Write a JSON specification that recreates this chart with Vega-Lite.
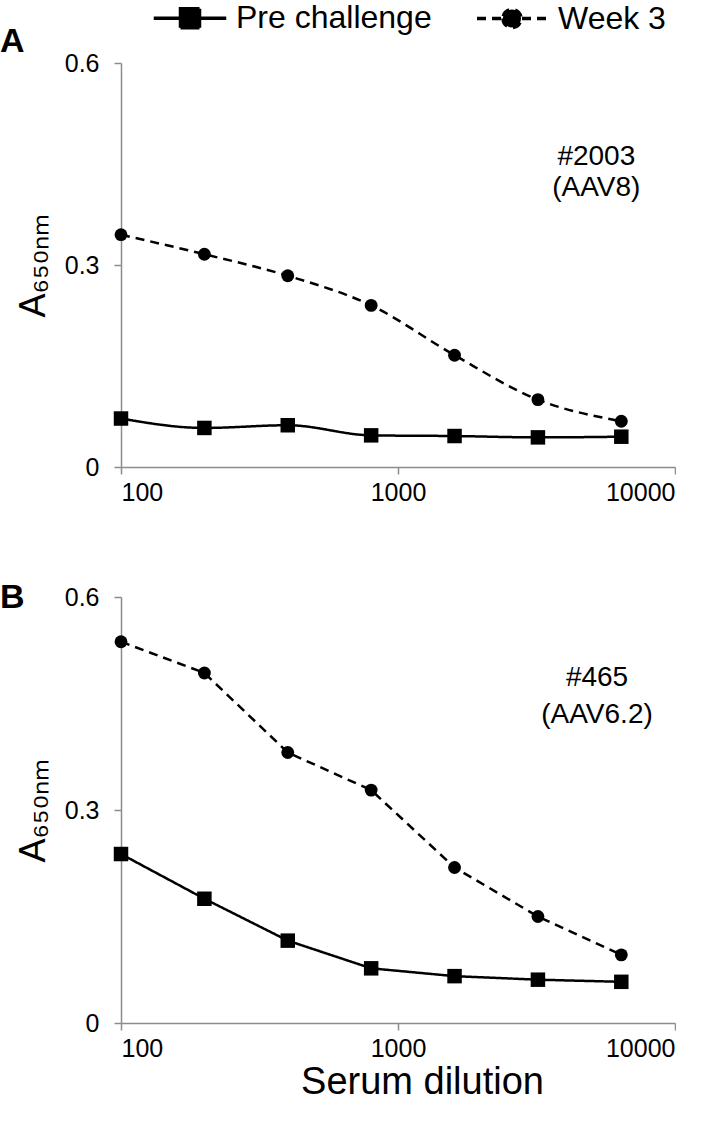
{
  "$schema": "https://vega.github.io/schema/vega-lite/v6.json",
  "background": "white",
  "padding": {"left": 0, "top": 2, "right": 0, "bottom": 0},
  "datasets": {
    "points": [
      {"panel": "A", "series": "Pre challenge", "dilution": 100, "A650": 0.072},
      {"panel": "A", "series": "Pre challenge", "dilution": 200, "A650": 0.058},
      {"panel": "A", "series": "Pre challenge", "dilution": 400, "A650": 0.062},
      {"panel": "A", "series": "Pre challenge", "dilution": 800, "A650": 0.047},
      {"panel": "A", "series": "Pre challenge", "dilution": 1600, "A650": 0.046},
      {"panel": "A", "series": "Pre challenge", "dilution": 3200, "A650": 0.044},
      {"panel": "A", "series": "Pre challenge", "dilution": 6400, "A650": 0.045},
      {"panel": "A", "series": "Week 3", "dilution": 100, "A650": 0.345},
      {"panel": "A", "series": "Week 3", "dilution": 200, "A650": 0.316},
      {"panel": "A", "series": "Week 3", "dilution": 400, "A650": 0.284},
      {"panel": "A", "series": "Week 3", "dilution": 800, "A650": 0.240},
      {"panel": "A", "series": "Week 3", "dilution": 1600, "A650": 0.166},
      {"panel": "A", "series": "Week 3", "dilution": 3200, "A650": 0.100},
      {"panel": "A", "series": "Week 3", "dilution": 6400, "A650": 0.068},
      {"panel": "B", "series": "Pre challenge", "dilution": 100, "A650": 0.238},
      {"panel": "B", "series": "Pre challenge", "dilution": 200, "A650": 0.175},
      {"panel": "B", "series": "Pre challenge", "dilution": 400, "A650": 0.116},
      {"panel": "B", "series": "Pre challenge", "dilution": 800, "A650": 0.077},
      {"panel": "B", "series": "Pre challenge", "dilution": 1600, "A650": 0.066},
      {"panel": "B", "series": "Pre challenge", "dilution": 3200, "A650": 0.061},
      {"panel": "B", "series": "Pre challenge", "dilution": 6400, "A650": 0.058},
      {"panel": "B", "series": "Week 3", "dilution": 100, "A650": 0.537},
      {"panel": "B", "series": "Week 3", "dilution": 200, "A650": 0.493},
      {"panel": "B", "series": "Week 3", "dilution": 400, "A650": 0.381},
      {"panel": "B", "series": "Week 3", "dilution": 800, "A650": 0.328},
      {"panel": "B", "series": "Week 3", "dilution": 1600, "A650": 0.219},
      {"panel": "B", "series": "Week 3", "dilution": 3200, "A650": 0.150},
      {"panel": "B", "series": "Week 3", "dilution": 6400, "A650": 0.096}
    ],
    "notes": [
      {"panel": "A", "dilution": 5200, "A650": 0.46, "label": "#2003\n(AAV8)"},
      {"panel": "B", "dilution": 5230, "A650": 0.486, "label": "#465\n(AAV6.2)"}
    ]
  },
  "vconcat": [
    {
      "width": 554,
      "height": 404,
      "title": {"text": "A", "anchor": "start", "frame": "group", "dx": -121, "offset": -8, "fontSize": 34, "fontWeight": "bold", "font": "Liberation Sans", "color": "black"},
      "layer": [
        {
          "data": {"name": "points"},
          "transform": [{"filter": "datum.panel === 'A'"}],
          "mark": {"type": "line", "color": "black", "strokeWidth": 2.5, "interpolate": "monotone"},
          "encoding": {
            "x": {"field": "dilution", "type": "quantitative", "scale": {"type": "log", "domain": [100, 10000]}, "axis": {"values": [100, 1000, 10000], "format": "d", "title": null}},
            "y": {"field": "A650", "type": "quantitative", "scale": {"domain": [0, 0.6]}, "axis": {"values": [0, 0.3, 0.6], "format": "~g", "title": "A₆₅₀ₙₘ"}},
            "strokeDash": {"field": "series", "type": "nominal", "scale": {"domain": ["Pre challenge", "Week 3"], "range": [[1, 0], [9, 6]]}, "legend": {
              "orient": "none", "legendX": 53, "legendY": -61, "direction": "horizontal", "title": null,
              "labelFontSize": 32, "labelFont": "Liberation Sans", "labelColor": "black", "labelLimit": 400,
              "symbolSize": 625, "symbolStrokeWidth": 3.5, "symbolStrokeColor": "black", "labelOffset": 30, "columnPadding": 38,
              "encode": {"symbols": {"update": {
                "shape": {"signal": "datum.value === 'Pre challenge' ? 'M-2.9,0H2.9M-0.76,-0.76H0.76V0.76H-0.76Z' : 'M-2.8,0H2.8M-0.72,0A0.72,0.72 0 1,0 0.72,0A0.72,0.72 0 1,0 -0.72,0Z'"},
                "size": {"value": 625},
                "fill": {"value": "black"},
                "stroke": {"value": "black"},
                "strokeWidth": {"value": 3.5},
                "strokeOpacity": {"value": 1},
                "opacity": {"value": 1}
              }}}
            }}
          }
        },
        {
          "data": {"name": "points"},
          "transform": [{"filter": "datum.panel === 'A' && datum.series === 'Pre challenge'"}],
          "mark": {"type": "square", "filled": true, "color": "black", "opacity": 1, "size": 210},
          "encoding": {
            "x": {"field": "dilution", "type": "quantitative"},
            "y": {"field": "A650", "type": "quantitative"}
          }
        },
        {
          "data": {"name": "points"},
          "transform": [{"filter": "datum.panel === 'A' && datum.series === 'Week 3'"}],
          "mark": {"type": "circle", "color": "black", "opacity": 1, "size": 165},
          "encoding": {
            "x": {"field": "dilution", "type": "quantitative"},
            "y": {"field": "A650", "type": "quantitative"}
          }
        },
        {
          "data": {"name": "notes"},
          "transform": [{"filter": "datum.panel === 'A'"}],
          "mark": {"type": "text", "font": "Liberation Sans", "fontSize": 28, "lineBreak": "\n", "lineHeight": 31, "color": "black", "align": "center", "baseline": "middle"},
          "encoding": {
            "x": {"field": "dilution", "type": "quantitative"},
            "y": {"field": "A650", "type": "quantitative"},
            "text": {"field": "label"}
          }
        }
      ]
    },
    {
      "width": 554,
      "height": 426,
      "title": {"text": "B", "anchor": "start", "frame": "group", "dx": -121, "offset": -30, "fontSize": 34, "fontWeight": "bold", "font": "Liberation Sans", "color": "black"},
      "layer": [
        {
          "data": {"name": "points"},
          "transform": [{"filter": "datum.panel === 'B'"}],
          "mark": {"type": "line", "color": "black", "strokeWidth": 2.5},
          "encoding": {
            "x": {"field": "dilution", "type": "quantitative", "scale": {"type": "log", "domain": [100, 10000]}, "axis": {"values": [100, 1000, 10000], "format": "d", "title": "Serum dilution", "titleFontSize": 38, "titlePadding": 2, "titleX": 301}},
            "y": {"field": "A650", "type": "quantitative", "scale": {"domain": [0, 0.6]}, "axis": {"values": [0, 0.3, 0.6], "format": "~g", "title": "A₆₅₀ₙₘ"}},
            "strokeDash": {"field": "series", "type": "nominal", "scale": {"domain": ["Pre challenge", "Week 3"], "range": [[1, 0], [9, 6]]}}
          }
        },
        {
          "data": {"name": "points"},
          "transform": [{"filter": "datum.panel === 'B' && datum.series === 'Pre challenge'"}],
          "mark": {"type": "square", "filled": true, "color": "black", "opacity": 1, "size": 210},
          "encoding": {
            "x": {"field": "dilution", "type": "quantitative"},
            "y": {"field": "A650", "type": "quantitative"}
          }
        },
        {
          "data": {"name": "points"},
          "transform": [{"filter": "datum.panel === 'B' && datum.series === 'Week 3'"}],
          "mark": {"type": "circle", "color": "black", "opacity": 1, "size": 165},
          "encoding": {
            "x": {"field": "dilution", "type": "quantitative"},
            "y": {"field": "A650", "type": "quantitative"}
          }
        },
        {
          "data": {"name": "notes"},
          "transform": [{"filter": "datum.panel === 'B'"}],
          "mark": {"type": "text", "font": "Liberation Sans", "fontSize": 28, "lineBreak": "\n", "lineHeight": 37, "color": "black", "align": "center", "baseline": "middle"},
          "encoding": {
            "x": {"field": "dilution", "type": "quantitative"},
            "y": {"field": "A650", "type": "quantitative"},
            "text": {"field": "label"}
          }
        }
      ]
    }
  ],
  "spacing": 76,
  "config": {
    "view": {"stroke": null},
    "axis": {
      "grid": false,
      "domainColor": "#8c8c8c",
      "domainWidth": 1.5,
      "tickColor": "#8c8c8c",
      "tickWidth": 1.5,
      "tickSize": 7,
      "labelFont": "Liberation Sans",
      "labelFontSize": 25,
      "labelColor": "black",
      "labelPadding": 6,
      "titleFont": "Liberation Sans",
      "titleFontSize": 36,
      "titleFontWeight": "normal",
      "titleColor": "black"
    },
    "axisY": {"titlePadding": 12, "labelPadding": 15}
  }
}
